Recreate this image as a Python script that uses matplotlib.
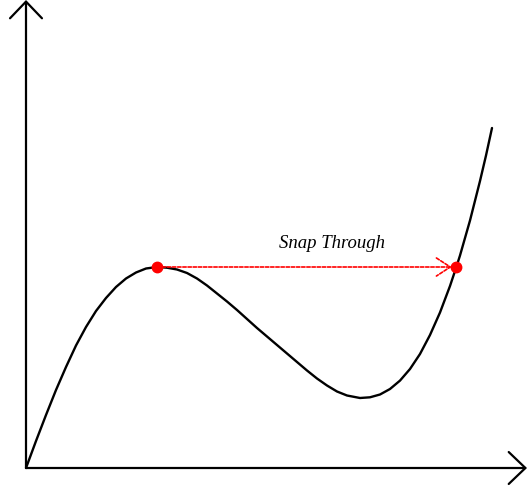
import matplotlib
matplotlib.use("Agg")
import matplotlib.pyplot as plt
from matplotlib.patches import FancyArrowPatch

# curve (origin at the axes corner)
curve_x = [0, 10, 20, 30, 40, 50, 60, 70, 80, 90, 100, 110, 120,
           131, 141, 151, 161, 171, 181, 191, 201, 211, 221, 231, 241, 251,
           261, 271, 281, 291, 301, 311, 321, 334,
           344, 354, 364, 374, 384, 394, 404, 414, 424, 430, 434, 444, 454, 460, 466]
curve_y = [0, 27, 53, 78, 101, 122.5, 141, 157, 170, 181, 189.5, 195.5, 199.5,
           201, 200.3, 198.5, 195, 189.5, 182.5, 174.5, 166.5, 158, 149, 140, 131.5, 123,
           114.5, 106, 97.5, 89.5, 82.5, 76.5, 72.5, 70,
           70.7, 73.5, 79, 87.4, 99, 114, 133, 155.5, 182, 200, 212.5, 247.5, 287, 312.5, 340]

snap_start = (131, 201)
snap_end = (430, 201)
label = "Snap Through"

fig = plt.figure(figsize=(5.28, 4.88), dpi=100)
ax = fig.add_axes([0, 0, 1, 1])
ax.set_xlim(-26, 502)
ax.set_ylim(-20, 468)
ax.axis('off')

# axes with open arrow heads
for end in [(0, 468), (501, 0)]:
    ax.add_patch(FancyArrowPatch((0, 0), end, arrowstyle='->,head_length=12,head_width=11.5',
                                 mutation_scale=1, lw=1.6, color='black', shrinkA=0, shrinkB=0))

ax.plot(curve_x, curve_y, color='black', lw=1.7, solid_capstyle='round', solid_joinstyle='round')

ax.add_patch(FancyArrowPatch(snap_start, snap_end, arrowstyle='->,head_length=10,head_width=6.5',
                             mutation_scale=1, lw=1.2, color='red', linestyle=(0, (2, 1.1)),
                             shrinkA=0, shrinkB=3, zorder=3))
ax.plot([snap_start[0], snap_end[0]], [snap_start[1], snap_end[1]], 'o', color='red',
        markersize=7.5, zorder=4)

ax.text(306, 224, label, fontsize=13.5, style='italic', family='Liberation Serif',
        ha='center', va='center')

fig.savefig('out.png', dpi=100)
